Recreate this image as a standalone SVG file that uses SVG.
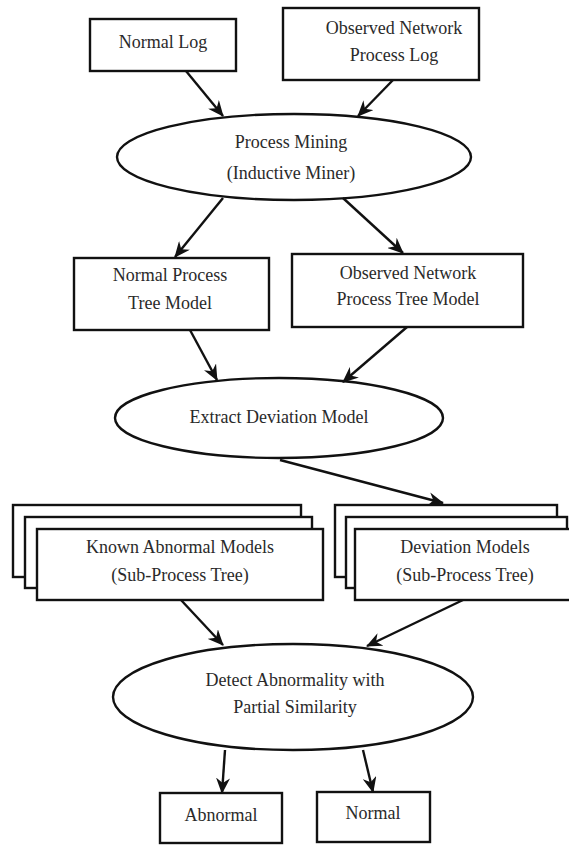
<svg xmlns="http://www.w3.org/2000/svg" width="569" height="846" viewBox="0 0 569 846">
  <style>
    .box { fill: #ffffff; stroke: #111111; stroke-width: 2.4; }
    .oval { fill: #ffffff; stroke: #111111; stroke-width: 2.4; }
    .label { font-family: "Liberation Serif", "Times New Roman", serif; font-size: 18px; fill: #2a2a2a; text-anchor: middle; }
    .edge { stroke: #111111; stroke-width: 2.4; fill: none; marker-end: url(#head); }
  </style>
  <defs>
    <marker id="head" viewBox="0 0 16 14" markerWidth="16" markerHeight="14" markerUnits="userSpaceOnUse" refX="15" refY="7" orient="auto">
      <path d="M0,0 L16,7 L0,14 L5,7 z" fill="#111111"/>
    </marker>
  </defs>
  <rect width="569" height="846" fill="#ffffff"/>

  <g id="normal-log">
    <rect class="box" x="90" y="19" width="146" height="52"/>
    <text class="label" x="163" y="48">Normal Log</text>
  </g>

  <g id="observed-log">
    <rect class="box" x="283" y="8" width="196" height="72"/>
    <text class="label" x="394" y="34">Observed Network</text>
    <text class="label" x="394" y="61">Process Log</text>
  </g>

  <g id="process-mining">
    <ellipse class="oval" cx="294" cy="157" rx="177" ry="43"/>
    <text class="label" x="291" y="148">Process Mining</text>
    <text class="label" x="291" y="179">(Inductive Miner)</text>
  </g>

  <g id="normal-tree">
    <rect class="box" x="74" y="258" width="195" height="72"/>
    <text class="label" x="170" y="281">Normal Process</text>
    <text class="label" x="170" y="309">Tree Model</text>
  </g>

  <g id="observed-tree">
    <rect class="box" x="292" y="254" width="231" height="73"/>
    <text class="label" x="408" y="279">Observed Network</text>
    <text class="label" x="408" y="305">Process Tree Model</text>
  </g>

  <g id="extract-deviation">
    <ellipse class="oval" cx="279" cy="418" rx="164" ry="40"/>
    <text class="label" x="279" y="423">Extract Deviation Model</text>
  </g>

  <g id="known-abnormal">
    <rect class="box" x="13" y="505" width="288" height="72"/>
    <rect class="box" x="25" y="517" width="287" height="71"/>
    <rect class="box" x="37" y="529" width="286" height="71"/>
    <text class="label" x="180" y="553">Known Abnormal Models</text>
    <text class="label" x="180" y="581">(Sub-Process Tree)</text>
  </g>

  <g id="deviation-models">
    <rect class="box" x="335" y="505" width="222" height="72"/>
    <rect class="box" x="346" y="517" width="221" height="71"/>
    <rect class="box" x="355" y="529" width="222" height="71"/>
    <text class="label" x="465" y="553">Deviation Models</text>
    <text class="label" x="465" y="581">(Sub-Process Tree)</text>
  </g>

  <g id="detect">
    <ellipse class="oval" cx="293" cy="697" rx="180" ry="53"/>
    <text class="label" x="295" y="686">Detect Abnormality with</text>
    <text class="label" x="295" y="713">Partial Similarity</text>
  </g>

  <g id="abnormal">
    <rect class="box" x="160" y="793" width="122" height="50"/>
    <text class="label" x="221" y="821">Abnormal</text>
  </g>

  <g id="normal">
    <rect class="box" x="317" y="792" width="113" height="50"/>
    <text class="label" x="373" y="819">Normal</text>
  </g>

  <g id="connectors">
    <line class="edge" x1="186" y1="71" x2="223" y2="116"/>
    <line class="edge" x1="393" y1="80" x2="358" y2="116"/>
    <line class="edge" x1="223" y1="198" x2="175" y2="257"/>
    <line class="edge" x1="343" y1="198" x2="403" y2="253"/>
    <line class="edge" x1="190" y1="330" x2="217" y2="380"/>
    <line class="edge" x1="407" y1="327" x2="343" y2="382"/>
    <line class="edge" x1="280" y1="460" x2="443" y2="503"/>
    <line class="edge" x1="181" y1="600" x2="223" y2="645"/>
    <line class="edge" x1="463" y1="600" x2="367" y2="646"/>
    <line class="edge" x1="225" y1="750" x2="222" y2="793"/>
    <line class="edge" x1="363" y1="750" x2="373" y2="792"/>
  </g>
</svg>
